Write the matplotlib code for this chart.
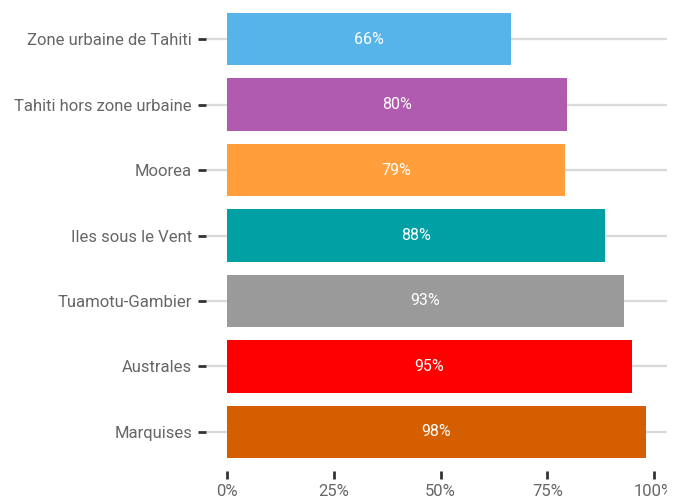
import matplotlib
matplotlib.use("Agg")
import matplotlib.pyplot as plt
from matplotlib.transforms import Bbox, TransformedBbox, IdentityTransform

categories = ["Zone urbaine de Tahiti", "Tahiti hors zone urbaine", "Moorea",
              "Iles sous le Vent", "Tuamotu-Gambier", "Australes", "Marquises"]
values = [66.5, 79.6, 79.2, 88.5, 93.0, 94.8, 98.1]
value_labels = ["66%", "80%", "79%", "88%", "93%", "95%", "98%"]
colors = ["#56B4E9", "#B05AB0", "#FF9E3A", "#00A0A5", "#9A9A9A", "#FF0000", "#D55E00"]
xticks = [0, 25, 50, 75, 100]
xticklabels = ["0%", "25%", "50%", "75%", "100%"]

plt.rcParams['font.family'] = ['Roboto', 'DejaVu Sans']

fig = plt.figure(figsize=(6.84, 4.98), dpi=100)
ax = fig.add_axes([206/684, 1 - 471/498, (667-206)/684, 471/498])

n = len(categories)
ypos = list(range(n))[::-1]
for y in ypos:
    ax.axhline(y, color="#d9d9d9", lw=1.6, zorder=0)
ax.barh(ypos, values, height=0.8, color=colors, zorder=2)
for y, v, lab in zip(ypos, values, value_labels):
    ax.text(v / 2, y, lab, ha="center", va="center", color="white",
            fontsize=11.5, fontweight="normal", zorder=3)

vmax = max(values)
ax.set_xlim(-0.05 * vmax, 1.05 * vmax)
ax.set_ylim(-0.6, n - 1 + 0.6)
ax.set_yticks(ypos)
ax.set_yticklabels(categories)
ax.set_xticks(xticks)
ax.set_xticklabels(xticklabels)
for lab in ax.get_yticklabels() + ax.get_xticklabels():
    lab.set_fontweight("normal")
    lab.set_color("#666666")
    lab.set_fontsize(12)
ax.tick_params(axis="y", length=6, width=2, color="#333333", pad=4)
ax.tick_params(axis="x", length=6, width=2, color="#333333", pad=3)
for s in ax.spines.values():
    s.set_visible(False)

clip = TransformedBbox(Bbox.from_extents(0, 0, 667, 498), IdentityTransform())
for lab in ax.get_xticklabels():
    lab.set_clip_box(clip)
    lab.set_clip_on(True)

fig.savefig("out.png", dpi=100)
